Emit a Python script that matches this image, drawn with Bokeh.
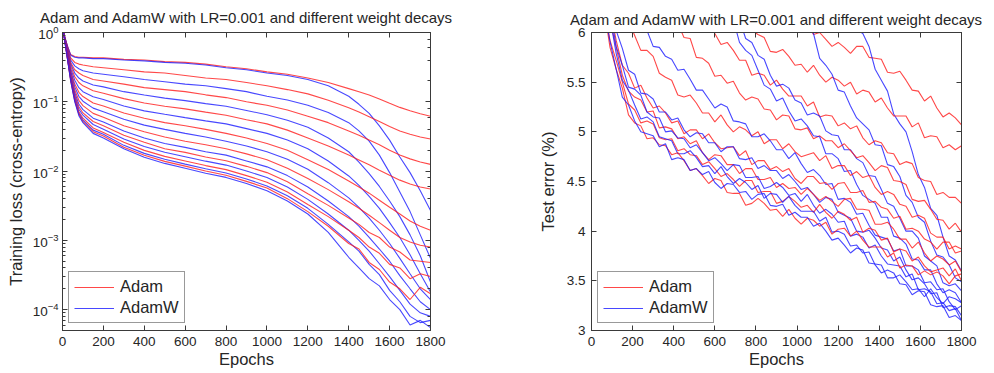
import numpy as np
from bokeh.plotting import figure
from bokeh.layouts import row
from bokeh.models import (Range1d, LogAxis, LinearAxis, FixedTicker, LogTicker,
                          Legend, LegendItem, CustomJSTickFormatter)
from bokeh.embed import file_html
from bokeh.resources import INLINE

TITLE = "Adam and AdamW with LR=0.001 and different weight decays"
X_TICKS = [0, 200, 400, 600, 800, 1000, 1200, 1400, 1600, 1800]
TEST_Y_TICKS = [3, 3.5, 4, 4.5, 5, 5.5, 6]
TEST_Y_LABELS = {3: "3", 3.5: "3.5", 4: "4", 4.5: "4.5", 5: "5", 5.5: "5.5", 6: "6"}

# ---------------- left panel: training loss (log scale) ----------------
LOSS_EPOCHS = [5, 15, 25, 40, 60, 80, 100, 150, 200, 300, 400, 500, 600, 700, 800, 900,
               1000, 1100, 1200, 1300, 1400, 1450, 1500, 1550, 1600, 1650, 1700, 1750, 1800]

ADAM_LOSS = [
    [1.0, 0.79, 0.63, 0.48, 0.45, 0.44, 0.44, 0.43, 0.43, 0.41, 0.40, 0.38, 0.37, 0.35, 0.32, 0.30,
     0.27, 0.25, 0.22, 0.19, 0.155, 0.14, 0.125, 0.11, 0.095, 0.083, 0.074, 0.067, 0.062],
    [1.0, 0.77, 0.60, 0.43, 0.37, 0.35, 0.34, 0.32, 0.31, 0.29, 0.27, 0.26, 0.24, 0.22, 0.21, 0.19,
     0.17, 0.15, 0.13, 0.105, 0.082, 0.071, 0.061, 0.052, 0.044, 0.038, 0.034, 0.031, 0.029],
    [1.0, 0.74, 0.55, 0.37, 0.29, 0.26, 0.24, 0.21, 0.20, 0.18, 0.16, 0.15, 0.14, 0.126, 0.115, 0.10,
     0.089, 0.076, 0.062, 0.05, 0.038, 0.033, 0.028, 0.024, 0.02, 0.017, 0.015, 0.0135, 0.0125],
    [1.0, 0.72, 0.52, 0.33, 0.23, 0.19, 0.17, 0.144, 0.133, 0.111, 0.096, 0.086, 0.079, 0.071, 0.064, 0.055,
     0.048, 0.039, 0.030, 0.023, 0.017, 0.0145, 0.0123, 0.0103, 0.0087, 0.0074, 0.0065, 0.0059, 0.0055],
    [1.0, 0.69, 0.48, 0.28, 0.18, 0.137, 0.119, 0.096, 0.087, 0.069, 0.058, 0.05, 0.045, 0.040, 0.035, 0.030,
     0.025, 0.020, 0.0146, 0.0105, 0.0072, 0.0059, 0.0048, 0.0038, 0.003, 0.0024, 0.0019, 0.0016, 0.0014],
    [1.0, 0.67, 0.45, 0.25, 0.148, 0.105, 0.088, 0.068, 0.060, 0.045, 0.037, 0.031, 0.027, 0.024, 0.021, 0.0177,
     0.0146, 0.011, 0.0078, 0.0054, 0.0036, 0.0029, 0.0023, 0.0018, 0.0014, 0.0011, 0.00095, 0.00085, 0.0008],
    [1.0, 0.65, 0.43, 0.23, 0.125, 0.085, 0.069, 0.052, 0.045, 0.033, 0.026, 0.021, 0.0186, 0.016, 0.0141, 0.0117,
     0.0095, 0.007, 0.0047, 0.0032, 0.0021, 0.0017, 0.0013, 0.0011, 0.0008, 0.00068, 0.00052, 0.0005, 0.00048],
    [1.0, 0.64, 0.41, 0.21, 0.111, 0.072, 0.058, 0.042, 0.036, 0.026, 0.0199, 0.0163, 0.014, 0.012, 0.0105, 0.0086,
     0.0069, 0.005, 0.0033, 0.0022, 0.0014, 0.0011, 0.0008, 0.00065, 0.00045, 0.0004, 0.00028, 0.00033, 0.0003],
    [1.0, 0.63, 0.40, 0.20, 0.103, 0.066, 0.052, 0.037, 0.032, 0.022, 0.0169, 0.0138, 0.0118, 0.010, 0.0087, 0.0071,
     0.0057, 0.004, 0.0026, 0.0016, 0.0009, 0.00075, 0.00048, 0.00038, 0.00025, 0.0002, 0.00014, 0.00021, 0.00017],
]

ADAMW_LOSS = [
    [1.0, 0.79, 0.63, 0.47, 0.44, 0.43, 0.43, 0.42, 0.42, 0.40, 0.39, 0.37, 0.36, 0.34, 0.31, 0.29,
     0.26, 0.24, 0.21, 0.17, 0.12, 0.092, 0.068, 0.045, 0.028, 0.016, 0.0095, 0.0052, 0.0027],
    [1.0, 0.76, 0.58, 0.40, 0.33, 0.30, 0.28, 0.26, 0.25, 0.23, 0.21, 0.195, 0.18, 0.17, 0.155, 0.14,
     0.12, 0.106, 0.089, 0.07, 0.05, 0.038, 0.027, 0.017, 0.0095, 0.005, 0.0026, 0.0012, 0.00055],
    [1.0, 0.73, 0.53, 0.35, 0.26, 0.22, 0.20, 0.175, 0.164, 0.14, 0.125, 0.113, 0.104, 0.094, 0.086, 0.075,
     0.065, 0.054, 0.043, 0.03, 0.019, 0.0135, 0.0092, 0.006, 0.0037, 0.0022, 0.0012, 0.0006, 0.00025],
    [1.0, 0.70, 0.50, 0.30, 0.205, 0.16, 0.14, 0.118, 0.108, 0.087, 0.074, 0.066, 0.059, 0.053, 0.048, 0.041,
     0.035, 0.028, 0.021, 0.014, 0.0085, 0.0062, 0.0043, 0.0029, 0.0018, 0.0011, 0.00062, 0.00033, 0.00018],
    [1.0, 0.68, 0.46, 0.27, 0.164, 0.12, 0.102, 0.081, 0.072, 0.056, 0.046, 0.040, 0.035, 0.031, 0.027, 0.023,
     0.019, 0.0148, 0.0106, 0.0068, 0.0041, 0.003, 0.0021, 0.0014, 0.0009, 0.00055, 0.00033, 0.0002, 0.00014],
    [1.0, 0.66, 0.44, 0.24, 0.135, 0.093, 0.077, 0.058, 0.051, 0.038, 0.030, 0.025, 0.022, 0.019, 0.017, 0.014,
     0.0115, 0.0086, 0.0059, 0.0037, 0.0022, 0.0016, 0.0011, 0.00075, 0.0005, 0.00031, 0.0002, 0.00013, 0.0001],
    [1.0, 0.65, 0.42, 0.22, 0.118, 0.078, 0.064, 0.047, 0.040, 0.029, 0.0226, 0.0187, 0.0161, 0.0139, 0.0122, 0.010,
     0.0081, 0.0059, 0.0039, 0.0024, 0.0014, 0.001, 0.0007, 0.00046, 0.0003, 0.00019, 0.00012, 9e-5, 8e-5],
    [1.0, 0.64, 0.41, 0.21, 0.106, 0.068, 0.055, 0.039, 0.034, 0.0235, 0.018, 0.0148, 0.0126, 0.0108, 0.0094, 0.0077,
     0.0061, 0.0044, 0.0029, 0.0017, 0.00095, 0.0007, 0.00045, 0.00032, 0.00019, 0.00013, 8e-5, 6.5e-5, 7e-5],
    [1.0, 0.63, 0.40, 0.20, 0.10, 0.063, 0.05, 0.035, 0.030, 0.021, 0.0158, 0.0129, 0.011, 0.0093, 0.0081, 0.0066,
     0.0052, 0.0037, 0.0024, 0.0013, 0.00057, 0.0004, 0.00028, 0.00022, 0.00014, 0.0001, 6e-5, 7e-5, 5.5e-5],
]

# ---------------- right panel: test error (%) ----------------
# each series is sampled every 30 epochs, from its start epoch up to 1800
ADAM_TEST_START = [1050, 780, 570, 420, 180, 90, 90, 60, 60]
ADAM_TEST = [
    [6.08, 5.98, 6.0, 5.93, 5.86, 5.9, 5.85, 5.79, 5.86, 5.86, 5.75, 5.74, 5.73, 5.6, 5.59, 5.61, 5.52, 5.42,
     5.41, 5.31, 5.36, 5.24, 5.15, 5.19, 5.14, 5.07],
    [6.02, 5.98, 5.95, 5.81, 5.8, 5.83, 5.76, 5.67, 5.68, 5.6, 5.67, 5.57, 5.5, 5.55, 5.52, 5.46, 5.5, 5.38,
     5.42, 5.4, 5.3, 5.34, 5.24, 5.16, 5.16, 5.16, 5.05, 5.09, 4.94, 4.96, 4.95, 4.84, 4.87, 4.82, 4.86],
    [6.11, 5.99, 5.88, 5.9, 5.82, 5.72, 5.72, 5.57, 5.59, 5.57, 5.47, 5.52, 5.43, 5.36, 5.36, 5.36, 5.26, 5.3,
     5.15, 5.17, 5.16, 5.06, 5.09, 5.03, 5.06, 4.94, 4.87, 4.91, 4.89, 4.79, 4.78, 4.67, 4.7, 4.68, 4.54, 4.51,
     4.5, 4.37, 4.39, 4.34, 4.34, 4.28],
    [6.09, 5.95, 5.94, 5.75, 5.74, 5.69, 5.56, 5.57, 5.49, 5.51, 5.39, 5.32, 5.35, 5.33, 5.23, 5.22, 5.12, 5.17,
     5.16, 5.03, 5.02, 5.04, 4.93, 4.96, 4.91, 4.91, 4.84, 4.88, 4.81, 4.74, 4.76, 4.69, 4.61, 4.66, 4.64, 4.51,
     4.5, 4.47, 4.32, 4.3, 4.31, 4.22, 4.12, 4.11, 4.02, 4.08, 3.99],
    [6.12, 5.97, 5.82, 5.82, 5.76, 5.59, 5.55, 5.52, 5.37, 5.35, 5.37, 5.29, 5.19, 5.19, 5.1, 5.17, 5.07, 5.0,
     5.05, 5.02, 4.96, 5.0, 4.88, 4.92, 4.92, 4.83, 4.88, 4.8, 4.75, 4.77, 4.79, 4.71, 4.76, 4.63, 4.66, 4.66,
     4.56, 4.6, 4.54, 4.56, 4.44, 4.37, 4.4, 4.37, 4.27, 4.25, 4.14, 4.16, 4.13, 3.98, 3.94, 3.94, 3.82, 3.85,
     3.82],
    [6.25, 5.92, 5.67, 5.59, 5.44, 5.47, 5.34, 5.24, 5.26, 5.19, 5.09, 5.11, 4.98, 5.02, 5.02, 4.93, 4.98, 4.89,
     4.83, 4.84, 4.85, 4.76, 4.81, 4.67, 4.71, 4.71, 4.62, 4.65, 4.6, 4.63, 4.53, 4.48, 4.55, 4.55, 4.48, 4.49,
     4.42, 4.48, 4.49, 4.39, 4.39, 4.41, 4.29, 4.3, 4.24, 4.22, 4.13, 4.15, 4.02, 4.03, 4.0, 3.92, 3.89, 3.82,
     3.89, 3.89, 3.78, 3.8],
    [6.12, 5.85, 5.57, 5.41, 5.35, 5.32, 5.2, 5.21, 5.04, 5.05, 5.03, 4.93, 4.95, 4.88, 4.91, 4.79, 4.72, 4.77,
     4.76, 4.67, 4.67, 4.58, 4.63, 4.63, 4.52, 4.52, 4.54, 4.44, 4.48, 4.43, 4.44, 4.37, 4.43, 4.37, 4.31, 4.35,
     4.3, 4.25, 4.32, 4.33, 4.22, 4.22, 4.21, 4.07, 4.07, 4.09, 4.02, 3.92, 3.92, 3.83, 3.89, 3.78, 3.7, 3.75,
     3.72, 3.66, 3.7, 3.59],
    [6.27, 5.92, 5.72, 5.5, 5.28, 5.22, 5.09, 5.11, 5.08, 4.94, 4.92, 4.93, 4.81, 4.83, 4.77, 4.76, 4.67, 4.7,
     4.63, 4.55, 4.58, 4.52, 4.45, 4.51, 4.51, 4.39, 4.4, 4.4, 4.28, 4.3, 4.35, 4.3, 4.24, 4.26, 4.19, 4.27,
     4.19, 4.13, 4.2, 4.17, 4.11, 4.14, 3.99, 4.03, 4.01, 3.91, 3.93, 3.79, 3.82, 3.8, 3.7, 3.74, 3.65, 3.59,
     3.61, 3.63, 3.55, 3.62, 3.5],
    [6.26, 5.85, 5.63, 5.44, 5.17, 5.09, 5.06, 4.93, 4.94, 4.87, 4.86, 4.77, 4.79, 4.71, 4.61, 4.63, 4.56, 4.48,
     4.53, 4.51, 4.39, 4.38, 4.38, 4.26, 4.28, 4.33, 4.28, 4.21, 4.22, 4.15, 4.22, 4.13, 4.07, 4.13, 4.11, 4.05,
     4.09, 3.97, 4.02, 4.03, 3.95, 4.0, 3.91, 3.84, 3.84, 3.84, 3.74, 3.78, 3.63, 3.66, 3.65, 3.56, 3.6, 3.56,
     3.59, 3.55, 3.47, 3.55, 3.57],
]

ADAMW_TEST_START = [1290, 1050, 720, 690, 240, 90, 90, 90, 60]
ADAMW_TEST = [
    [6.03, 5.99, 5.86, 5.63, 5.52, 5.41, 5.18, 5.08, 5.0, 4.8, 4.57, 4.44, 4.23, 4.16, 3.94, 3.75, 3.71, 3.6],
    [6.08, 5.99, 5.74, 5.67, 5.58, 5.42, 5.4, 5.26, 5.14, 5.08, 5.02, 4.87, 4.86, 4.67, 4.65, 4.55, 4.36, 4.29,
     4.14, 4.09, 3.9, 3.76, 3.74, 3.66, 3.53, 3.49],
    [6.13, 5.94, 5.9, 5.77, 5.73, 5.57, 5.46, 5.48, 5.44, 5.32, 5.29, 5.17, 5.19, 5.16, 5.01, 4.97, 4.96, 4.82,
     4.82, 4.73, 4.69, 4.56, 4.55, 4.42, 4.28, 4.25, 4.13, 4.0, 4.0, 3.93, 3.75, 3.7, 3.65, 3.48, 3.45, 3.47, 3.4],
    [6.13, 5.9, 5.82, 5.77, 5.62, 5.47, 5.43, 5.31, 5.34, 5.21, 5.11, 5.13, 5.06, 4.96, 4.95, 4.78, 4.78, 4.73,
     4.6, 4.61, 4.47, 4.36, 4.32, 4.28, 4.14, 4.14, 3.95, 3.93, 3.87, 3.72, 3.71, 3.61, 3.61, 3.47, 3.38, 3.41,
     3.38, 3.28],
    [6.07, 6.02, 5.86, 5.85, 5.76, 5.73, 5.62, 5.63, 5.53, 5.42, 5.42, 5.33, 5.24, 5.28, 5.25, 5.11, 5.1, 5.08,
     4.95, 4.95, 4.98, 4.91, 4.82, 4.82, 4.73, 4.79, 4.68, 4.59, 4.62, 4.56, 4.47, 4.48, 4.32, 4.33, 4.29, 4.17,
     4.18, 4.06, 3.96, 3.94, 3.92, 3.8, 3.82, 3.65, 3.65, 3.61, 3.48, 3.49, 3.41, 3.42, 3.29, 3.21, 3.25],
    [6.26, 6.02, 5.84, 5.62, 5.58, 5.39, 5.38, 5.33, 5.2, 5.2, 5.12, 5.14, 5.02, 4.95, 4.99, 4.98, 4.89, 4.89,
     4.8, 4.85, 4.85, 4.73, 4.72, 4.74, 4.63, 4.66, 4.61, 4.61, 4.53, 4.57, 4.5, 4.42, 4.44, 4.37, 4.29, 4.34,
     4.32, 4.19, 4.16, 4.13, 4.0, 3.99, 4.01, 3.93, 3.83, 3.81, 3.7, 3.74, 3.61, 3.51, 3.53, 3.47, 3.37, 3.38,
     3.23, 3.25, 3.24, 3.15],
    [6.24, 5.86, 5.67, 5.45, 5.43, 5.37, 5.2, 5.15, 5.14, 5.0, 5.01, 4.94, 4.93, 4.84, 4.87, 4.79, 4.71, 4.74,
     4.68, 4.61, 4.67, 4.66, 4.54, 4.54, 4.55, 4.43, 4.45, 4.49, 4.44, 4.36, 4.38, 4.3, 4.37, 4.26, 4.18, 4.22,
     4.17, 4.09, 4.1, 3.95, 3.97, 3.94, 3.83, 3.86, 3.75, 3.67, 3.66, 3.65, 3.54, 3.57, 3.41, 3.42, 3.39, 3.27,
     3.28, 3.2, 3.22, 3.1],
    [6.15, 5.79, 5.52, 5.42, 5.27, 5.13, 5.15, 5.1, 4.95, 4.93, 4.91, 4.78, 4.78, 4.81, 4.74, 4.65, 4.66, 4.58,
     4.65, 4.55, 4.48, 4.53, 4.49, 4.42, 4.46, 4.33, 4.38, 4.37, 4.29, 4.35, 4.26, 4.2, 4.2, 4.2, 4.1, 4.14,
     3.99, 4.0, 3.97, 3.85, 3.86, 3.78, 3.79, 3.66, 3.58, 3.61, 3.58, 3.47, 3.46, 3.36, 3.4, 3.39, 3.26, 3.24,
     3.25, 3.13, 3.15, 3.1],
    [6.24, 5.91, 5.63, 5.35, 5.27, 5.11, 5.0, 4.98, 4.96, 4.85, 4.88, 4.72, 4.74, 4.72, 4.61, 4.63, 4.57, 4.6,
     4.49, 4.43, 4.48, 4.47, 4.39, 4.4, 4.32, 4.37, 4.38, 4.26, 4.25, 4.27, 4.16, 4.19, 4.14, 4.14, 4.05, 4.08,
     4.0, 3.91, 3.93, 3.86, 3.78, 3.83, 3.81, 3.68, 3.67, 3.66, 3.53, 3.53, 3.56, 3.49, 3.41, 3.42, 3.34, 3.42,
     3.33, 3.27, 3.34, 3.32, 3.28],
]

RED = "#ff1a1a"
BLUE = "#1a1aff"
FONT = "Liberation Sans"
AX = "#3a3a3a"
TXT = "#262626"


def style(p):
    p.grid.visible = False
    p.outline_line_color = AX
    p.outline_line_width = 1
    p.background_fill_color = "white"
    p.border_fill_color = "white"
    for ax in p.axis:
        ax.axis_line_color = AX
        ax.major_tick_line_color = AX
        ax.minor_tick_line_color = AX
        ax.major_tick_in = 5
        ax.major_tick_out = 0
        ax.minor_tick_in = 3
        ax.minor_tick_out = 0
        ax.major_label_text_font = FONT
        ax.major_label_text_font_size = "13.5px"
        ax.major_label_text_color = TXT
        ax.axis_label_text_font = FONT
        ax.axis_label_text_font_size = "16.5px"
        ax.axis_label_text_font_style = "normal"
        ax.axis_label_text_color = TXT


def add_box_axes(p, log_y, yticker, title_standoff):
    # tick marks on the top and right edges of the box; the top one carries the title
    top = LinearAxis(ticker=FixedTicker(ticks=X_TICKS),
                     formatter=CustomJSTickFormatter(code="return ''"))
    if log_y:
        right = LogAxis(ticker=LogTicker(), formatter=CustomJSTickFormatter(code="return ''"))
    else:
        right = LinearAxis(ticker=yticker, formatter=CustomJSTickFormatter(code="return ''"))
    for a in (top, right):
        a.axis_line_color = AX
        a.major_tick_line_color = AX
        a.minor_tick_line_color = AX
        a.major_tick_in = 5
        a.major_tick_out = 0
        a.minor_tick_in = 3
        a.minor_tick_out = 0
        a.major_label_standoff = 0
        a.major_label_text_font_size = "1px"
        a.axis_label_standoff = 0
    top.axis_label = TITLE
    top.axis_label_text_font = FONT
    top.axis_label_text_font_size = "15px"
    top.axis_label_text_font_style = "normal"
    top.axis_label_text_color = TXT
    top.axis_label_standoff = title_standoff
    p.add_layout(top, "above")
    p.add_layout(right, "right")


def make_legend(p, r_red, r_blue):
    lg = Legend(items=[LegendItem(label="Adam", renderers=[r_red]),
                       LegendItem(label="AdamW", renderers=[r_blue])],
                location=(6, 7))
    lg.border_line_color = "#333333"
    lg.border_line_width = 1
    lg.background_fill_color = "white"
    lg.background_fill_alpha = 1
    lg.label_text_font = FONT
    lg.label_text_font_size = "16.5px"
    lg.label_text_color = TXT
    lg.glyph_width = 40
    lg.glyph_height = 18
    lg.label_height = 18
    lg.label_standoff = 6
    lg.padding = 5
    lg.spacing = 2
    lg.margin = 0
    p.add_layout(lg)


# ---------- left figure ----------
p1 = figure(width=497, height=373, y_axis_type="log", title=None,
            x_range=Range1d(0, 1800), y_range=Range1d(5e-5, 1),
            output_backend="svg", toolbar_location=None,
            min_border_left=62, min_border_right=67, min_border_top=32, min_border_bottom=43)
p1.xaxis.ticker = FixedTicker(ticks=X_TICKS)
p1.xaxis.axis_label = "Epochs"
p1.yaxis.axis_label = "Training loss (cross-entropy)"
p1.xaxis.major_label_standoff = 6
p1.xaxis.axis_label_standoff = 1
p1.yaxis.major_label_standoff = 4
p1.yaxis.axis_label_standoff = 5
style(p1)
add_box_axes(p1, True, None, 7)

red1 = blue1 = None
for ra, rb in zip(ADAM_LOSS, ADAMW_LOSS):
    r = p1.line(LOSS_EPOCHS, ra, line_color=RED, line_width=1.1, line_alpha=0.8)
    b = p1.line(LOSS_EPOCHS, rb, line_color=BLUE, line_width=1.1, line_alpha=0.8)
    if red1 is None:
        red1, blue1 = r, b
make_legend(p1, red1, blue1)

# ---------- right figure ----------
p2 = figure(width=497, height=373, title=None,
            x_range=Range1d(0, 1800), y_range=Range1d(3, 6),
            output_backend="svg", toolbar_location=None,
            min_border_left=94, min_border_right=33, min_border_top=28, min_border_bottom=43)
p2.xaxis.ticker = FixedTicker(ticks=X_TICKS)
p2.yaxis.ticker = FixedTicker(ticks=TEST_Y_TICKS)
p2.yaxis.major_label_overrides = TEST_Y_LABELS
p2.xaxis.axis_label = "Epochs"
p2.yaxis.axis_label = "Test error (%)"
p2.xaxis.major_label_standoff = 6
p2.xaxis.axis_label_standoff = 1
p2.yaxis.major_label_standoff = 6
p2.yaxis.axis_label_standoff = 7
style(p2)
add_box_axes(p2, False, FixedTicker(ticks=TEST_Y_TICKS), 5)

red2 = blue2 = None
for s_a, va, s_b, vb in zip(ADAM_TEST_START, ADAM_TEST, ADAMW_TEST_START, ADAMW_TEST):
    xa = np.linspace(s_a, 1800, len(va))
    xb = np.linspace(s_b, 1800, len(vb))
    r = p2.line(xa, va, line_color=RED, line_width=1.1, line_alpha=0.8)
    b = p2.line(xb, vb, line_color=BLUE, line_width=1.1, line_alpha=0.8)
    if red2 is None:
        red2, blue2 = r, b
make_legend(p2, red2, blue2)

layout = row(p1, p2)
open("out.html", "w").write(file_html(layout, INLINE))
